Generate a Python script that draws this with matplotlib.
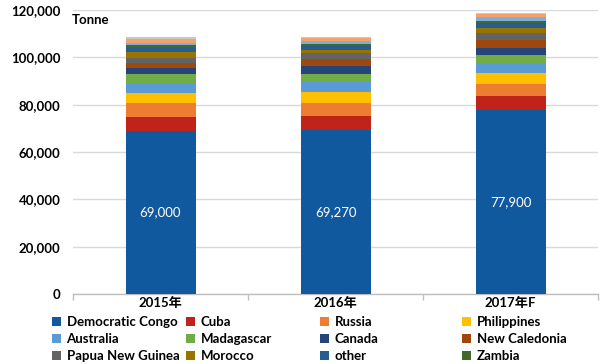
import matplotlib
matplotlib.use("Agg")
import matplotlib.pyplot as plt
from matplotlib.patches import Patch
from matplotlib.ticker import FuncFormatter, FixedLocator
import numpy as np

plt.rcParams['font.family'] = ['Lato', 'Noto Sans CJK JP', 'DejaVu Sans']

years = ["2015年", "2016年", "2017年F"]

countries = ["Democratic Congo", "Cuba", "Russia", "Philippines",
             "Australia", "Madagascar", "Canada", "New Caledonia",
             "Papua New Guinea", "Morocco", "other", "Zambia"]

democratic_congo = [69000, 69270, 77900]
cuba = [5900, 5800, 5640]
russia = [5900, 5650, 5080]
philippines = [4230, 4650, 4800]
australia = [4230, 4230, 3950]
madagascar = [3530, 3380, 3530]
canada = [2540, 3250, 3240]
new_caledonia = [2120, 3100, 3380]
papua_new_guinea = [2400, 2540, 2820]
morocco = [2400, 1130, 2260]
other = [1830, 2000, 1700]
zambia = [990, 500, 990]
# remaining small producers stacked on top (not listed in the legend)
minor_a = [1130, 1400, 1550]
minor_b = [1700, 1400, 1410]
minor_c = [850, 300, 300]

series = [democratic_congo, cuba, russia, philippines, australia, madagascar,
          canada, new_caledonia, papua_new_guinea, morocco, other, zambia,
          minor_a, minor_b, minor_c]

colors = ["#11599F", "#C0231A", "#ED7D31", "#FFC000", "#5B9BD5", "#70AD47",
          "#264478", "#9E480E", "#636363", "#997300", "#255E91", "#43682B",
          "#7FAEDD", "#F3A26A", "#C9C9C9"]

fig = plt.figure(figsize=(6.02, 3.64), dpi=100)
ax = fig.add_axes([73 / 602, 1 - 294 / 364, 525 / 602, 284 / 364])

x = np.arange(len(years))
bottom = np.zeros(len(years))
containers = []
for vals, col in zip(series, colors):
    c = ax.bar(x, vals, width=0.4, bottom=bottom, color=col, linewidth=0, zorder=3)
    containers.append(c)
    bottom += np.array(vals)

ax.bar_label(containers[0], labels=[f"{v:,}" for v in democratic_congo],
             label_type='center', color='white', fontsize=9.5)

ax.set_xlim(-0.5, 2.5)
ax.set_ylim(0, 120000)
ax.set_yticks(np.arange(0, 120001, 20000))
ax.yaxis.set_major_formatter(FuncFormatter(lambda v, p: f"{int(v):,}"))
ax.yaxis.grid(True, color="#D9D9D9", linewidth=1, zorder=0)
ax.tick_params(axis='y', length=0, pad=9, labelsize=9.5)
for lab in ax.get_yticklabels():
    lab.set_fontweight('bold')

ax.set_xticks(x)
ax.set_xticklabels(years, fontsize=9.5, fontweight='bold')
ax.tick_params(axis='x', length=0, pad=2)
ax.xaxis.set_minor_locator(FixedLocator([-0.5, 0.5, 1.5, 2.5, 0, 1, 2]))
ax.tick_params(axis='x', which='minor', length=4, color="#BFBFBF", width=1)

for s in ['top', 'right', 'left']:
    ax.spines[s].set_visible(False)
ax.spines['bottom'].set_color("#BFBFBF")
ax.spines['bottom'].set_linewidth(1)

fig.text(72 / 602, 1 - 20 / 364, "Tonne", fontsize=9.5, fontweight='bold',
         ha='left', va='center')

# legend laid out in four fixed-width columns, filled row by row
col_x = [52, 186, 320, 462]
for ci in range(4):
    idx = [ci, ci + 4, ci + 8]
    handles = [Patch(facecolor=colors[i], edgecolor='none') for i in idx]
    labels = [countries[i] for i in idx]
    fig.legend(handles, labels, loc='upper left',
               bbox_to_anchor=(col_x[ci] / 602, 1 - 316 / 364),
               frameon=False, ncol=1,
               prop={'weight': 'bold', 'size': 9.5},
               handlelength=0.7, handleheight=0.7, handletextpad=0.4,
               labelspacing=0.38, borderaxespad=0, borderpad=0)

fig.savefig("out.png", dpi=100)
